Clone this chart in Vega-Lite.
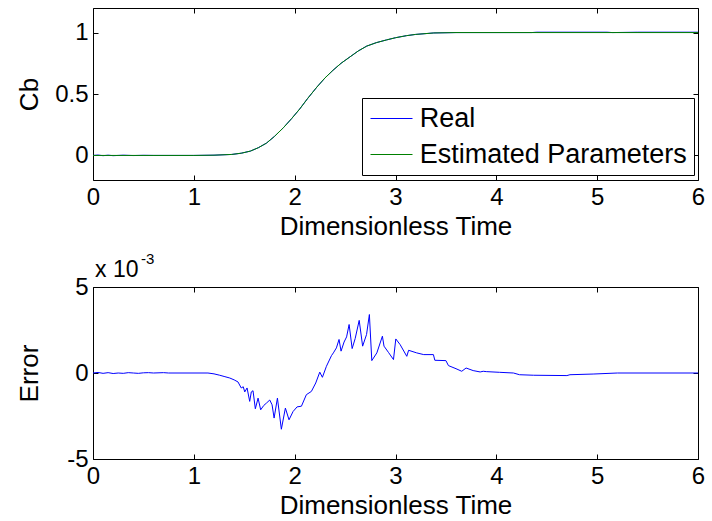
{
  "$schema": "https://vega.github.io/schema/vega-lite/v6.json",
  "padding": {"left": 16, "top": 7, "right": 6, "bottom": 4},
  "bounds": "flush",
  "spacing": 107,
  "background": "white",
  "config": {
    "font": "Liberation Sans",
    "view": {"stroke": "black", "strokeWidth": 1},
    "axis": {
      "domain": false, "grid": false, "tickColor": "black", "tickSize": -5, "tickWidth": 1,
      "labelColor": "black", "titleColor": "black", "labelFontSize": 24, "titleFontSize": 26,
      "titleFontWeight": "normal", "labelFlush": false, "labelOverlap": false,
      "labelFont": "Liberation Sans", "titleFont": "Liberation Sans"
    }
  },
  "vconcat": [
    {
      "width": 605,
      "height": 172,
      "data": {
        "values": [
          {"t": 0, "value": 0, "series": "Real"},
          {"t": 0.05, "value": 0.003, "series": "Real"},
          {"t": 0.1, "value": -0.002, "series": "Real"},
          {"t": 0.15, "value": 0.002, "series": "Real"},
          {"t": 0.2, "value": -0.002, "series": "Real"},
          {"t": 0.3, "value": 0.002, "series": "Real"},
          {"t": 0.4, "value": -0.001, "series": "Real"},
          {"t": 0.5, "value": 0.001, "series": "Real"},
          {"t": 0.6, "value": 0, "series": "Real"},
          {"t": 1.0, "value": 0, "series": "Real"},
          {"t": 1.2, "value": 0.002, "series": "Real"},
          {"t": 1.376, "value": 0.008, "series": "Real"},
          {"t": 1.47, "value": 0.018, "series": "Real"},
          {"t": 1.56, "value": 0.035, "series": "Real"},
          {"t": 1.64, "value": 0.063, "series": "Real"},
          {"t": 1.72, "value": 0.1, "series": "Real"},
          {"t": 1.8, "value": 0.155, "series": "Real"},
          {"t": 1.89, "value": 0.227, "series": "Real"},
          {"t": 1.97, "value": 0.3, "series": "Real"},
          {"t": 2.05, "value": 0.378, "series": "Real"},
          {"t": 2.13, "value": 0.465, "series": "Real"},
          {"t": 2.22, "value": 0.556, "series": "Real"},
          {"t": 2.3, "value": 0.63, "series": "Real"},
          {"t": 2.38, "value": 0.693, "series": "Real"},
          {"t": 2.46, "value": 0.75, "series": "Real"},
          {"t": 2.55, "value": 0.803, "series": "Real"},
          {"t": 2.63, "value": 0.85, "series": "Real"},
          {"t": 2.715, "value": 0.89, "series": "Real"},
          {"t": 2.81, "value": 0.918, "series": "Real"},
          {"t": 2.91, "value": 0.94, "series": "Real"},
          {"t": 3.0, "value": 0.958, "series": "Real"},
          {"t": 3.11, "value": 0.975, "series": "Real"},
          {"t": 3.2, "value": 0.985, "series": "Real"},
          {"t": 3.38, "value": 0.997, "series": "Real"},
          {"t": 3.6, "value": 1.0, "series": "Real"},
          {"t": 4.35, "value": 1.0, "series": "Real"},
          {"t": 4.4, "value": 1.003, "series": "Real"},
          {"t": 5.1, "value": 1.003, "series": "Real"},
          {"t": 5.15, "value": 1.0, "series": "Real"},
          {"t": 5.4, "value": 1.003, "series": "Real"},
          {"t": 6.0, "value": 1.003, "series": "Real"},
          {"t": 0, "value": 0, "series": "Estimated Parameters"},
          {"t": 1.0, "value": 0, "series": "Estimated Parameters"},
          {"t": 1.2, "value": 0.002, "series": "Estimated Parameters"},
          {"t": 1.376, "value": 0.008, "series": "Estimated Parameters"},
          {"t": 1.47, "value": 0.018, "series": "Estimated Parameters"},
          {"t": 1.56, "value": 0.035, "series": "Estimated Parameters"},
          {"t": 1.64, "value": 0.063, "series": "Estimated Parameters"},
          {"t": 1.72, "value": 0.1, "series": "Estimated Parameters"},
          {"t": 1.8, "value": 0.155, "series": "Estimated Parameters"},
          {"t": 1.89, "value": 0.227, "series": "Estimated Parameters"},
          {"t": 1.97, "value": 0.3, "series": "Estimated Parameters"},
          {"t": 2.05, "value": 0.378, "series": "Estimated Parameters"},
          {"t": 2.13, "value": 0.465, "series": "Estimated Parameters"},
          {"t": 2.22, "value": 0.556, "series": "Estimated Parameters"},
          {"t": 2.3, "value": 0.63, "series": "Estimated Parameters"},
          {"t": 2.38, "value": 0.693, "series": "Estimated Parameters"},
          {"t": 2.46, "value": 0.75, "series": "Estimated Parameters"},
          {"t": 2.55, "value": 0.803, "series": "Estimated Parameters"},
          {"t": 2.63, "value": 0.85, "series": "Estimated Parameters"},
          {"t": 2.715, "value": 0.89, "series": "Estimated Parameters"},
          {"t": 2.81, "value": 0.918, "series": "Estimated Parameters"},
          {"t": 2.91, "value": 0.94, "series": "Estimated Parameters"},
          {"t": 3.0, "value": 0.958, "series": "Estimated Parameters"},
          {"t": 3.11, "value": 0.975, "series": "Estimated Parameters"},
          {"t": 3.2, "value": 0.985, "series": "Estimated Parameters"},
          {"t": 3.38, "value": 0.997, "series": "Estimated Parameters"},
          {"t": 3.6, "value": 1.0, "series": "Estimated Parameters"},
          {"t": 6.0, "value": 1.0, "series": "Estimated Parameters"}
        ]
      },
      "resolve": {"axis": {"x": "independent", "y": "independent"}},
      "layer": [
        {
          "transform": [{"filter": "datum.series === 'Real'"}],
          "mark": {"type": "line", "strokeWidth": 1, "clip": true},
          "encoding": {
            "x": {"field": "t", "type": "quantitative",
                  "scale": {"domain": [0, 6], "nice": false, "zero": false},
                  "axis": {"orient": "bottom", "values": [0, 1, 2, 3, 4, 5, 6], "format": "~g",
                           "title": "Dimensionless Time", "labelPadding": 10, "titlePadding": 4}},
            "y": {"field": "value", "type": "quantitative",
                  "scale": {"domain": [-0.2, 1.2], "nice": false, "zero": false},
                  "axis": {"orient": "left", "values": [0, 0.5, 1], "format": "~g",
                           "title": "Cb", "labelPadding": 10, "titlePadding": 12}},
            "color": {"field": "series", "type": "nominal",
                      "scale": {"domain": ["Real", "Estimated Parameters"], "range": ["#0000ff", "#008000"]},
                      "legend": {"title": null, "orient": "none", "legendX": 269, "legendY": 90,
                                 "strokeColor": "black", "fillColor": "white", "padding": 7,
                                 "labelFontSize": 27, "labelColor": "black", "labelFont": "Liberation Sans",
                                 "symbolType": "M -1 0 H 2.5", "symbolSize": 576, "symbolStrokeWidth": 1,
                                 "rowPadding": 8, "labelOffset": 23.7, "labelLimit": 400}}
          }
        },
        {
          "transform": [{"filter": "datum.series === 'Estimated Parameters'"}],
          "mark": {"type": "line", "strokeWidth": 1, "clip": true},
          "encoding": {
            "x": {"field": "t", "type": "quantitative",
                  "axis": {"orient": "top", "values": [0, 1, 2, 3, 4, 5, 6], "labels": false, "title": null}},
            "y": {"field": "value", "type": "quantitative",
                  "axis": {"orient": "right", "values": [0, 0.5, 1], "labels": false, "title": null}},
            "color": {"field": "series", "type": "nominal"}
          }
        }
      ]
    },
    {
      "width": 605,
      "height": 172,
      "resolve": {"axis": {"x": "independent", "y": "independent"}},
      "layer": [
        {
          "data": {
            "values": [
              {"t": 0, "error": 0},
              {"t": 0.05, "error": 0.00003},
              {"t": 0.1, "error": -0.00002},
              {"t": 0.15, "error": 0.00002},
              {"t": 0.2, "error": -0.00003},
              {"t": 0.25, "error": 0},
              {"t": 0.3, "error": -0.00002},
              {"t": 0.35, "error": 0.00002},
              {"t": 0.4, "error": 0},
              {"t": 0.45, "error": -0.00002},
              {"t": 0.5, "error": 0.00001},
              {"t": 0.55, "error": 0.00002},
              {"t": 0.6, "error": 0},
              {"t": 0.7, "error": 0.00002},
              {"t": 0.75, "error": 0},
              {"t": 1.14, "error": 0},
              {"t": 1.2, "error": -0.00005},
              {"t": 1.257, "error": -0.00013},
              {"t": 1.3, "error": -0.0002},
              {"t": 1.356, "error": -0.00029},
              {"t": 1.4, "error": -0.0004},
              {"t": 1.438, "error": -0.00052},
              {"t": 1.47, "error": -0.00087},
              {"t": 1.49, "error": -0.0008},
              {"t": 1.505, "error": -0.0011},
              {"t": 1.528, "error": -0.00087},
              {"t": 1.554, "error": -0.00165},
              {"t": 1.57, "error": -0.0011},
              {"t": 1.587, "error": -0.00103},
              {"t": 1.61, "error": -0.00208},
              {"t": 1.637, "error": -0.00146},
              {"t": 1.663, "error": -0.00214},
              {"t": 1.693, "error": -0.00189},
              {"t": 1.72, "error": -0.00175},
              {"t": 1.753, "error": -0.00157},
              {"t": 1.776, "error": -0.00185},
              {"t": 1.796, "error": -0.00262},
              {"t": 1.829, "error": -0.00146},
              {"t": 1.868, "error": -0.00327},
              {"t": 1.908, "error": -0.00204},
              {"t": 1.944, "error": -0.00272},
              {"t": 1.984, "error": -0.00224},
              {"t": 2.024, "error": -0.00197},
              {"t": 2.067, "error": -0.00193},
              {"t": 2.116, "error": -0.00126},
              {"t": 2.166, "error": -0.00107},
              {"t": 2.209, "error": -0.00058},
              {"t": 2.249, "error": 0.00005},
              {"t": 2.275, "error": -0.00025},
              {"t": 2.315, "error": 0.00039},
              {"t": 2.365, "error": 0.00101},
              {"t": 2.384, "error": 0.00117},
              {"t": 2.414, "error": 0.00146},
              {"t": 2.44, "error": 0.00195},
              {"t": 2.46, "error": 0.00127},
              {"t": 2.49, "error": 0.0018},
              {"t": 2.515, "error": 0.0021},
              {"t": 2.54, "error": 0.00282},
              {"t": 2.57, "error": 0.00142},
              {"t": 2.6, "error": 0.002},
              {"t": 2.64, "error": 0.00306},
              {"t": 2.674, "error": 0.00156},
              {"t": 2.713, "error": 0.00224},
              {"t": 2.741, "error": 0.0034},
              {"t": 2.765, "error": 0.00072},
              {"t": 2.815, "error": 0.00117},
              {"t": 2.87, "error": 0.00214},
              {"t": 2.886, "error": 0.00156},
              {"t": 2.93, "error": 0.0012},
              {"t": 2.98, "error": 0.00078},
              {"t": 3.003, "error": 0.00198},
              {"t": 3.046, "error": 0.00165},
              {"t": 3.112, "error": 0.00097},
              {"t": 3.13, "error": 0.00132},
              {"t": 3.21, "error": 0.00117},
              {"t": 3.28, "error": 0.00107},
              {"t": 3.376, "error": 0.00107},
              {"t": 3.39, "error": 0.00074},
              {"t": 3.5, "error": 0.00072},
              {"t": 3.525, "error": 0.00043},
              {"t": 3.6, "error": 0.00025},
              {"t": 3.657, "error": 0.0001},
              {"t": 3.7, "error": 0.00029},
              {"t": 3.77, "error": 0.00014},
              {"t": 3.84, "error": 0.00006},
              {"t": 3.87, "error": 0.0001},
              {"t": 3.9, "error": 0.00008},
              {"t": 4.03, "error": 0.00004},
              {"t": 4.17, "error": 0},
              {"t": 4.23, "error": -0.0001},
              {"t": 4.37, "error": -0.00013},
              {"t": 4.7, "error": -0.00015},
              {"t": 4.73, "error": -0.0001},
              {"t": 4.96, "error": -0.00006},
              {"t": 5.2, "error": 0},
              {"t": 6.0, "error": 0}
            ]
          },
          "mark": {"type": "line", "strokeWidth": 1, "color": "#0000ff", "clip": true},
          "encoding": {
            "x": {"field": "t", "type": "quantitative",
                  "scale": {"domain": [0, 6], "nice": false, "zero": false},
                  "axis": {"orient": "bottom", "values": [0, 1, 2, 3, 4, 5, 6], "format": "~g",
                           "title": "Dimensionless Time", "labelPadding": 10, "titlePadding": 4}},
            "y": {"field": "error", "type": "quantitative",
                  "scale": {"domain": [-0.005, 0.005], "nice": false, "zero": false},
                  "axis": {"orient": "left", "values": [-0.005, 0, 0.005],
                           "labelExpr": "'' + round(datum.value * 1000)",
                           "title": "Error", "labelPadding": 10, "titlePadding": 24}}
          }
        },
        {
          "data": {"values": [{"scale": "x 10"}]},
          "mark": {"type": "text", "align": "left", "baseline": "alphabetic",
                   "fontSize": 23, "font": "Liberation Sans", "color": "black", "dx": 2, "dy": -10},
          "encoding": {
            "text": {"field": "scale"},
            "x": {"datum": 0, "type": "quantitative",
                  "axis": {"orient": "top", "values": [0, 1, 2, 3, 4, 5, 6], "labels": false, "title": null}},
            "y": {"datum": 0.005, "type": "quantitative",
                  "axis": {"orient": "right", "values": [-0.005, 0, 0.005], "labels": false, "title": null}}
          }
        },
        {
          "data": {"values": [{"exponent": "-3"}]},
          "mark": {"type": "text", "align": "left", "baseline": "alphabetic",
                   "fontSize": 15, "font": "Liberation Sans", "color": "black", "dx": 48, "dy": -23},
          "encoding": {
            "text": {"field": "exponent"},
            "x": {"datum": 0, "type": "quantitative", "axis": null},
            "y": {"datum": 0.005, "type": "quantitative", "axis": null}
          }
        }
      ]
    }
  ]
}
